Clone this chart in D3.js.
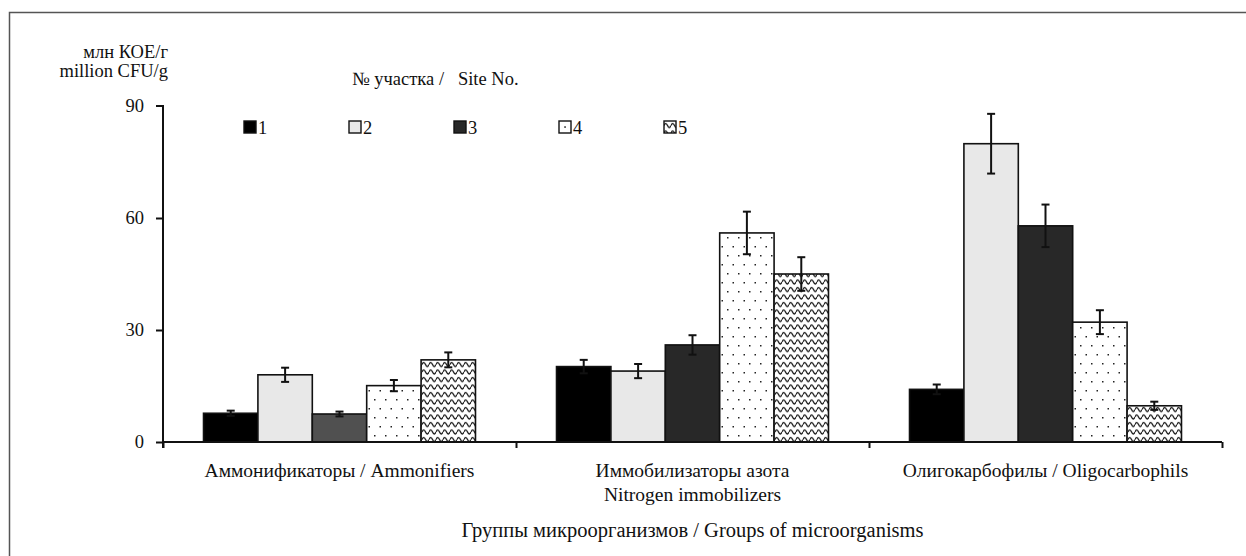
<!DOCTYPE html>
<html>
<head>
<meta charset="utf-8">
<script src="https://cdn.jsdelivr.net/npm/d3@7/dist/d3.min.js"></script>
<style>
  body { margin: 0; background: #fff; }
</style>
</head>
<body>
<svg width="1246" height="556"></svg>
<script>
// data
const groups = ['Аммонификаторы / Ammonifiers', 'Иммобилизаторы азота|Nitrogen immobilizers', 'Олигокарбофилы / Oligocarbophils'];
const sites = ['1', '2', '3', '4', '5'];
const site1 = [7.7, 20.2, 14.1];
const site2 = [18.0, 19.0, 79.9];
const site3 = [7.5, 26.0, 57.9];
const site4 = [15.1, 56.0, 32.1];
const site5 = [22.0, 45.0, 9.7];
const err1 = [0.7, 1.8, 1.3];
const err2 = [1.9, 1.9, 8.0];
const err3 = [0.65, 2.6, 5.7];
const err4 = [1.5, 5.7, 3.2];
const err5 = [2.0, 4.5, 1.1];
const yTicks = [0, 30, 60, 90];

const values = [site1, site2, site3, site4, site5];
const errors = [err1, err2, err3, err4, err5];

const FONT = '"Liberation Serif"';

// sets serif font on a text selection
const serif = (sel, size = 18.5) => sel.style('font-family', FONT).style('font-size', size + 'px').style('fill', '#111');

const svg = d3.select('svg');
const width = +svg.attr('width');
const height = +svg.attr('height');

// frame
svg.append('rect')
  .attr('x', 9.5).attr('y', 12.5)
  .attr('width', width + 20).attr('height', height + 20)
  .attr('fill', 'none').attr('stroke', '#555').attr('stroke-width', 1.5);

// patterns
const defs = svg.append('defs');
const dots = defs.append('pattern')
  .attr('id', 'dots').attr('patternUnits', 'userSpaceOnUse')
  .attr('width', 11).attr('height', 18);
dots.append('rect').attr('width', 11).attr('height', 18).attr('fill', '#fff');
dots.append('rect').attr('x', 2).attr('y', 3).attr('width', 1.5).attr('height', 1.5).attr('fill', '#222');
dots.append('rect').attr('x', 7.5).attr('y', 12).attr('width', 1.5).attr('height', 1.5).attr('fill', '#222');

const wave = defs.append('pattern')
  .attr('id', 'wave').attr('patternUnits', 'userSpaceOnUse')
  .attr('width', 7).attr('height', 7.5);
wave.append('rect').attr('width', 7).attr('height', 7.5).attr('fill', '#fff');
wave.append('path')
  .attr('d', 'M0,4.5 Q1.75,0.5 3.5,4.5 T7,4.5')
  .attr('fill', 'none').attr('stroke', '#111').attr('stroke-width', 1.3);

const fills = ['#000', '#e8e8e8', '#282828', 'url(#dots)', 'url(#wave)'];

// scales
const margin = { left: 163, right: 24, top: 106, bottom: 114 };
const x0 = d3.scaleBand()
  .domain(groups)
  .range([margin.left, width - margin.right])
  .padding(0);
const x1 = d3.scaleBand()
  .domain(sites)
  .range([0, x0.bandwidth()])
  .paddingInner(0)
  .paddingOuter(0.745);
const y = d3.scaleLinear()
  .domain([0, 90])
  .range([height - margin.bottom, margin.top]);

// y axis
const yAxis = svg.append('g')
  .attr('transform', `translate(${margin.left},0)`)
  .call(d3.axisLeft(y).tickValues(yTicks).tickSize(7).tickPadding(12));
yAxis.select('.domain').attr('d', `M-7,${y(90)}H0V${y(0) + 6}`).attr('stroke', '#111').attr('stroke-width', 2);
yAxis.selectAll('.tick line').attr('stroke', '#111').attr('stroke-width', 2);
yAxis.selectAll('.tick text').call(serif);
yAxis.selectAll('.tick').filter(d => d === 90).select('line').remove();

// bars
const groupG = svg.selectAll('.grp')
  .data(groups)
  .enter().append('g')
  .attr('class', 'grp')
  .attr('transform', d => `translate(${x0(d)},0)`);

groupG.each(function (g, gi) {
  const sel = d3.select(this);
  const rows = sites.map((s, si) => ({ s, si, v: values[si][gi], e: errors[si][gi] }));
  sel.selectAll('rect').data(rows).enter().append('rect')
    .attr('x', d => x1(d.s))
    .attr('y', d => y(d.v))
    .attr('width', x1.bandwidth())
    .attr('height', d => y(0) - y(d.v))
    .attr('fill', d => (gi === 0 && d.si === 2) ? '#505050' : fills[d.si])
    .attr('stroke', '#111')
    .attr('stroke-width', 1.6);

  const eb = sel.selectAll('.err').data(rows).enter().append('g')
    .attr('class', 'err')
    .attr('stroke', '#111').attr('stroke-width', 2);
  const cx = d => x1(d.s) + x1.bandwidth() / 2;
  eb.append('line').attr('x1', cx).attr('x2', cx)
    .attr('y1', d => y(d.v + d.e)).attr('y2', d => y(d.v - d.e));
  eb.append('line').attr('x1', d => cx(d) - 4).attr('x2', d => cx(d) + 4)
    .attr('y1', d => y(d.v + d.e)).attr('y2', d => y(d.v + d.e));
  eb.append('line').attr('x1', d => cx(d) - 4).attr('x2', d => cx(d) + 4)
    .attr('y1', d => y(d.v - d.e)).attr('y2', d => y(d.v - d.e));
});

// x axis
const xb = d3.scaleLinear().domain([0, groups.length]).range(x0.range());
const xAxis = svg.append('g')
  .attr('transform', `translate(0,${y(0)})`)
  .call(d3.axisBottom(xb).ticks(groups.length).tickSize(6).tickFormat(''));
xAxis.select('.domain').attr('d', `M${x0.range()[0]},0H${x0.range()[1]}`).attr('stroke', '#111').attr('stroke-width', 2);
xAxis.selectAll('.tick line').attr('stroke', '#111').attr('stroke-width', 2);

// category labels
svg.selectAll('.cat')
  .data(groups)
  .enter().append('text')
  .attr('class', 'cat')
  .attr('text-anchor', 'middle')
  .call(serif, 19.5)
  .each(function (d) {
    const t = d3.select(this);
    d.split('|').forEach((line, i) => {
      t.append('tspan')
        .attr('x', x0(d) + x0.bandwidth() / 2)
        .attr('y', 477 + i * 24)
        .text(line);
    });
  });

// axis titles
svg.append('text').attr('x', (x0.range()[0] + x0.range()[1]) / 2).attr('y', 537)
  .attr('text-anchor', 'middle').call(serif, 20.5)
  .text('Группы микроорганизмов / Groups of microorganisms');

svg.append('text').attr('x', 168).attr('y', 58)
  .attr('text-anchor', 'end').call(serif).text('млн КОЕ/г');
svg.append('text').attr('x', 168).attr('y', 77)
  .attr('text-anchor', 'end').call(serif).text('million CFU/g');

// legend
svg.append('text').attr('x', 352).attr('y', 85)
  .call(serif).style('white-space', 'pre')
  .text('№ участка /   Site No.');

const legend = svg.selectAll('.leg')
  .data(sites)
  .enter().append('g')
  .attr('class', 'leg')
  .attr('transform', (d, i) => `translate(${244 + i * 105},121)`);
legend.append('rect')
  .attr('width', 12).attr('height', 12)
  .attr('fill', (d, i) => i === 3 ? '#fff' : fills[i])
  .attr('stroke', '#111').attr('stroke-width', 1.4);
legend.filter((d, i) => i === 3).append('rect')
  .attr('x', 5.3).attr('y', 5.3).attr('width', 1.5).attr('height', 1.5).attr('fill', '#111');
legend.append('text')
  .attr('x', 14).attr('y', 12.5)
  .call(serif)
  .text(d => d);
</script>
</body>
</html>
